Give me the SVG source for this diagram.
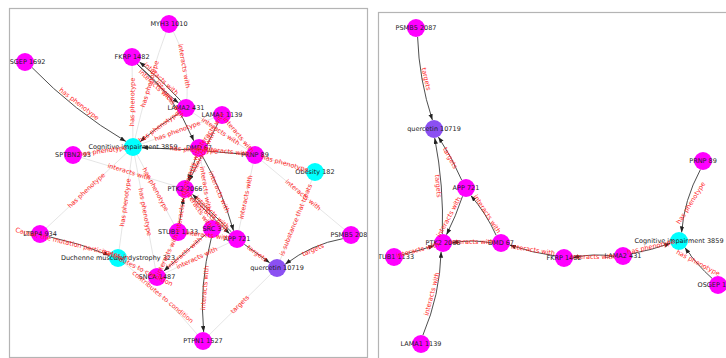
<svg xmlns="http://www.w3.org/2000/svg" width="726" height="358" viewBox="0 0 726 358">
  <defs>
    <marker id="ah" markerUnits="userSpaceOnUse" markerWidth="7" markerHeight="5" refX="6" refY="2.2" orient="auto">
      <path d="M0,0 L6,2.2 L0,4.4 z" fill="#222"/>
    </marker>
    <clipPath id="clipL"><rect x="9" y="8" width="358" height="350"/></clipPath>
    <clipPath id="clipR"><rect x="378" y="12" width="360" height="360"/></clipPath>
    <style>
      .frame { fill: none; stroke: #b4b4b4; stroke-width: 1.2; }
      .g { fill: none; stroke: #dedede; stroke-width: 0.8; }
      .d { fill: none; stroke: #3a3a3a; stroke-width: 0.9; marker-end: url(#ah); }
      .m { fill: #ff00ff; }
      .c { fill: #00ffff; }
      .p { fill: #8b50f2; }
      .nl { font-family: "DejaVu Sans", sans-serif; font-size: 6.5px; fill: #222; text-anchor: middle; dominant-baseline: central; }
      .el { font-family: "DejaVu Sans", sans-serif; font-size: 6.5px; fill: #ff1f1f; text-anchor: middle; dominant-baseline: central; }
    </style>
  </defs>
  <rect width="726" height="358" fill="#ffffff"/>

  <!-- ===== Left panel: neighbourhood graph ===== -->
  <g id="left-panel" clip-path="url(#clipL)">
    <g id="left-connectors">
      <!-- light edges -->
      <path class="g" d="M169,24 Q192,62 186,108"/>
      <path class="g" d="M169,24 Q148,80 133,147"/>
      <path class="g" d="M132,57 L133,147"/>
      <path class="g" d="M73,155 L133,147"/>
      <path class="g" d="M73,155 L185,189"/>
      <path class="g" d="M40,234 L133,147"/>
      <path class="g" d="M133,147 L118,258"/>
      <path class="g" d="M133,147 L157,277"/>
      <path class="g" d="M133,147 L178,232"/>
      <path class="g" d="M255,155 L237,239"/>
      <path class="g" d="M255,155 L315,172"/>
      <path class="g" d="M255,155 L351,235"/>
      <path class="g" d="M315,172 L277,268"/>
      <path class="g" d="M118,258 Q165,295 203,341"/>
      <path class="g" d="M118,258 L157,277"/>
      <path class="g" d="M277,268 L203,341"/>
      <path class="g" d="M222,115 L199,148"/>
      <path class="g" d="M133,147 L222,115"/>
      <path class="g" d="M185,189 L212,229"/>
      <path class="g" d="M178,232 L157,277"/>
      <path class="g" d="M157,277 L237,239"/>
      <path class="g" d="M186,108 L255,155"/>
      <path class="g" d="M222,115 L255,155"/>
      <path class="g" d="M199,148 L212,229"/>
      <path class="g" d="M199,148 L255,155"/>
      <path class="g" d="M178,232 L237,239"/>
      <!-- directed edges -->
      <path class="d" d="M32.1,67.6 Q74,111 125.9,141.4"/>
      <path class="d" d="M180.5,100.5 Q162,80 139.5,62"/>
      <path class="d" d="M137.5,64.5 Q156,85 178.5,103"/>
      <path class="d" d="M178.8,113.3 Q158,126 140.2,141.7"/>
      <path class="d" d="M246,154.4 Q194,149 142,147.6"/>
      <path class="d" d="M218,123 L189,181"/>
      <path class="d" d="M196.1,156.5 L187.9,180.5"/>
      <path class="d" d="M137.3,64.2 Q175,95 193.7,140.8"/>
      <path class="d" d="M202.5,156.3 Q222,190 233.5,230.7"/>
      <path class="d" d="M231.4,231.9 L192.4,194.3"/>
      <path class="d" d="M190.6,196.1 L229.6,233.7"/>
      <path class="d" d="M244.3,244.3 L269.7,262.7"/>
      <path class="d" d="M342.8,238.7 Q312,244 285.2,264.3"/>
      <path class="d" d="M179.4,223.1 L183.6,197.9"/>
      <path class="d" d="M205.2,234.9 L163.8,271.1"/>
      <path class="d" d="M211.3,238 Q199,285 203.7,332"/>
      <path class="d" d="M48.6,236.6 Q80,243 109.4,255.4"/>
    </g>

    <g id="L-myh3"><circle class="m" cx="169" cy="24" r="9"/><text class="nl" x="169" y="24">MYH3 1010</text></g>
    <g id="L-osgep"><circle class="m" cx="25" cy="62" r="9"/><text class="nl" x="25" y="62">OSGEP 1692</text></g>
    <g id="L-fkrp"><circle class="m" cx="132" cy="57" r="9"/><text class="nl" x="132" y="57">FKRP 1482</text></g>
    <g id="L-lama2"><circle class="m" cx="186" cy="108" r="9"/><text class="nl" x="186" y="108">LAMA2 431</text></g>
    <g id="L-lama1"><circle class="m" cx="222" cy="115" r="9"/><text class="nl" x="222" y="115">LAMA1 1139</text></g>
    <g id="L-cognitive"><circle class="c" cx="133" cy="147" r="9"/><text class="nl" x="133" y="147">Cognitive impairment 3859</text></g>
    <g id="L-dmd"><circle class="m" cx="199" cy="148" r="9"/><text class="nl" x="199" y="148">DMD 67</text></g>
    <g id="L-prnp"><circle class="m" cx="255" cy="155" r="9"/><text class="nl" x="255" y="155">PRNP 89</text></g>
    <g id="L-sptbn2"><circle class="m" cx="73" cy="155" r="9"/><text class="nl" x="73" y="155">SPTBN2 93</text></g>
    <g id="L-obesity"><circle class="c" cx="315" cy="172" r="9"/><text class="nl" x="315" y="172">Obesity 182</text></g>
    <g id="L-ptk2"><circle class="m" cx="185" cy="189" r="9"/><text class="nl" x="185" y="189">PTK2 2066</text></g>
    <g id="L-stub1"><circle class="m" cx="178" cy="232" r="9"/><text class="nl" x="178" y="232">STUB1 1133</text></g>
    <g id="L-src"><circle class="m" cx="212" cy="229" r="9"/><text class="nl" x="212" y="229">SRC 3</text></g>
    <g id="L-app"><circle class="m" cx="237" cy="239" r="9"/><text class="nl" x="237" y="239">APP 721</text></g>
    <g id="L-ltbp4"><circle class="m" cx="40" cy="234" r="9"/><text class="nl" x="40" y="234">LTBP4 934</text></g>
    <g id="L-psmb5"><circle class="m" cx="351" cy="235" r="9"/><text class="nl" x="351" y="235">PSMB5 2087</text></g>
    <g id="L-duchenne"><circle class="c" cx="118" cy="258" r="9"/><text class="nl" x="118" y="258">Duchenne muscular dystrophy 323</text></g>
    <g id="L-snca"><circle class="m" cx="157" cy="277" r="9"/><text class="nl" x="157" y="277">SNCA 1487</text></g>
    <g id="L-quercetin"><circle class="p" cx="277" cy="268" r="9"/><text class="nl" x="277" y="268">quercetin 10719</text></g>
    <g id="L-ptpn1"><circle class="m" cx="203" cy="341" r="9"/><text class="nl" x="203" y="341">PTPN1 1527</text></g>

    <g id="left-edge-labels">
      <text class="el" transform="translate(184,66) rotate(80)">interacts with</text>
      <text class="el" transform="translate(150,84) rotate(-73)">has phenotype</text>
      <text class="el" transform="translate(132.5,102) rotate(-89)">has phenotype</text>
      <text class="el" transform="translate(103,151) rotate(-8)">has phenotype</text>
      <text class="el" transform="translate(129,172) rotate(17)">interacts with</text>
      <text class="el" transform="translate(86.5,190.5) rotate(-43)">has phenotype</text>
      <text class="el" transform="translate(125.5,202.5) rotate(-82)">has phenotype</text>
      <text class="el" transform="translate(145,212) rotate(79.5)">has phenotype</text>
      <text class="el" transform="translate(155.5,189.5) rotate(62)">has phenotype</text>
      <text class="el" transform="translate(246,197) rotate(-78)">interacts with</text>
      <text class="el" transform="translate(285,163.5) rotate(16)">has phenotype</text>
      <text class="el" transform="translate(303,195) rotate(40)">interacts with</text>
      <text class="el" transform="translate(296,220) rotate(-68)">is substance that treats</text>
      <text class="el" transform="translate(162.75,297) rotate(40)">contributes to condition</text>
      <text class="el" transform="translate(137.5,267.5) rotate(26)">contributes to condition</text>
      <text class="el" transform="translate(240,304.5) rotate(-44.6)">targets</text>
      <text class="el" transform="translate(210.5,131.5) rotate(-55)">interacts with</text>
      <text class="el" transform="translate(177.5,131) rotate(-20)">has phenotype</text>
      <text class="el" transform="translate(198.5,209) rotate(56)">interacts with</text>
      <text class="el" transform="translate(167.5,254.5) rotate(-65)">interacts with</text>
      <text class="el" transform="translate(197,258) rotate(-25)">interacts with</text>
      <text class="el" transform="translate(220.5,131.5) rotate(34)">interacts with</text>
      <text class="el" transform="translate(238.5,135) rotate(50)">interacts with</text>
      <text class="el" transform="translate(205.5,188.5) rotate(81)">interacts with</text>
      <text class="el" transform="translate(227,151.5) rotate(7)">interacts with</text>
      <text class="el" transform="translate(207.5,235.5) rotate(7)">interacts with</text>
      <text class="el" transform="translate(79,104) rotate(38)">has phenotype</text>
      <text class="el" transform="translate(161,79) rotate(43)">interacts with</text>
      <text class="el" transform="translate(156,86) rotate(43)">interacts with</text>
      <text class="el" transform="translate(159,127) rotate(-36)">has phenotype</text>
      <text class="el" transform="translate(194,150) rotate(4)">has phenotype</text>
      <text class="el" transform="translate(203.5,152) rotate(-63.4)">interacts with</text>
      <text class="el" transform="translate(192,168.5) rotate(-71)">interacts with</text>
      <text class="el" transform="translate(170,99) rotate(55)">interacts with</text>
      <text class="el" transform="translate(219,192) rotate(67)">interacts with</text>
      <text class="el" transform="translate(212,212.5) rotate(44)">interacts with</text>
      <text class="el" transform="translate(210,215.5) rotate(44)">interacts with</text>
      <text class="el" transform="translate(257,253.5) rotate(36)">targets</text>
      <text class="el" transform="translate(313,250) rotate(-24)">targets</text>
      <text class="el" transform="translate(181.5,210.5) rotate(-81)">interacts with</text>
      <text class="el" transform="translate(184.5,253) rotate(-41)">interacts with</text>
      <text class="el" transform="translate(205,288) rotate(-85)">interacts with</text>
      <text class="el" transform="translate(72,244) rotate(14)">Causal, the mutation participates in</text>
    </g>
  </g>
  <rect class="frame" x="9.5" y="8.5" width="358" height="349"/>

  <!-- ===== Right panel: path subgraph ===== -->
  <g id="right-panel" clip-path="url(#clipR)">
    <g id="right-connectors">
      <path class="d" d="M417.6,36.9 Q419,79.5 432.4,120.1"/>
      <path class="d" d="M442.3,234 Q444,186 434.7,138"/>
      <path class="d" d="M461.7,180.1 Q452,157 438.3,136.9"/>
      <path class="d" d="M462.5,196.3 Q456,216 446.5,234.7"/>
      <path class="d" d="M496.2,235.4 Q486,213 470.8,195.6"/>
      <path class="d" d="M492,243 Q472,239 452,243"/>
      <path class="d" d="M402.6,254.5 Q418,251 434.4,245.5"/>
      <path class="d" d="M422.9,335.2 Q440,295 441.1,251.8"/>
      <path class="d" d="M555.2,255.9 Q533,253 509.7,245.1"/>
      <path class="d" d="M614,256.3 Q593,253 573,257.7"/>
      <path class="d" d="M631.7,253.7 Q652,250 670.3,243.3"/>
      <path class="d" d="M700.4,169.6 Q684,200 681.6,232.4"/>
      <path class="d" d="M712,278.3 Q697,265 685,247.7"/>
    </g>

    <g id="R-psmb5"><circle class="m" cx="416" cy="28" r="9"/><text class="nl" x="416" y="28">PSMB5 2087</text></g>
    <g id="R-quercetin"><circle class="p" cx="434" cy="129" r="9"/><text class="nl" x="434" y="129">quercetin 10719</text></g>
    <g id="R-prnp"><circle class="m" cx="703" cy="161" r="9"/><text class="nl" x="703" y="161">PRNP 89</text></g>
    <g id="R-app"><circle class="m" cx="466" cy="188" r="9"/><text class="nl" x="466" y="188">APP 721</text></g>
    <g id="R-ptk2"><circle class="m" cx="443" cy="243" r="9"/><text class="nl" x="443" y="243">PTK2 2066</text></g>
    <g id="R-dmd"><circle class="m" cx="501" cy="243" r="9"/><text class="nl" x="501" y="243">DMD 67</text></g>
    <g id="R-stub1"><circle class="m" cx="394" cy="257" r="9"/><text class="nl" x="394" y="257">STUB1 1133</text></g>
    <g id="R-fkrp"><circle class="m" cx="564" cy="258" r="9"/><text class="nl" x="564" y="258">FKRP 1482</text></g>
    <g id="R-lama2"><circle class="m" cx="623" cy="256" r="9"/><text class="nl" x="623" y="256">LAMA2 431</text></g>
    <g id="R-cognitive"><circle class="c" cx="679" cy="241" r="9"/><text class="nl" x="679" y="241">Cognitive impairment 3859</text></g>
    <g id="R-osgep"><circle class="m" cx="718" cy="285" r="9"/><text class="nl" x="718" y="285">OSGEP 1692</text></g>
    <g id="R-lama1"><circle class="m" cx="421" cy="344" r="9"/><text class="nl" x="421" y="344">LAMA1 1139</text></g>

    <g id="right-edge-labels">
      <text class="el" transform="translate(426,79) rotate(77)">targets</text>
      <text class="el" transform="translate(438,186) rotate(85)">targets</text>
      <text class="el" transform="translate(450,158) rotate(61)">targets</text>
      <text class="el" transform="translate(449,217) rotate(-62)">interacts with</text>
      <text class="el" transform="translate(487,214) rotate(57)">interacts with</text>
      <text class="el" transform="translate(472,242) rotate(0)">interacts with</text>
      <text class="el" transform="translate(418,250) rotate(-15)">interacts with</text>
      <text class="el" transform="translate(432,294) rotate(-75)">interacts with</text>
      <text class="el" transform="translate(533,250) rotate(9)">interacts with</text>
      <text class="el" transform="translate(593,257) rotate(0)">interacts with</text>
      <text class="el" transform="translate(651,247) rotate(-13)">has phenotype</text>
      <text class="el" transform="translate(691,203) rotate(-58)">has phenotype</text>
      <text class="el" transform="translate(698,263) rotate(28)">has phenotype</text>
    </g>
  </g>
  <rect class="frame" x="378.5" y="12.5" width="360" height="360"/>
</svg>
